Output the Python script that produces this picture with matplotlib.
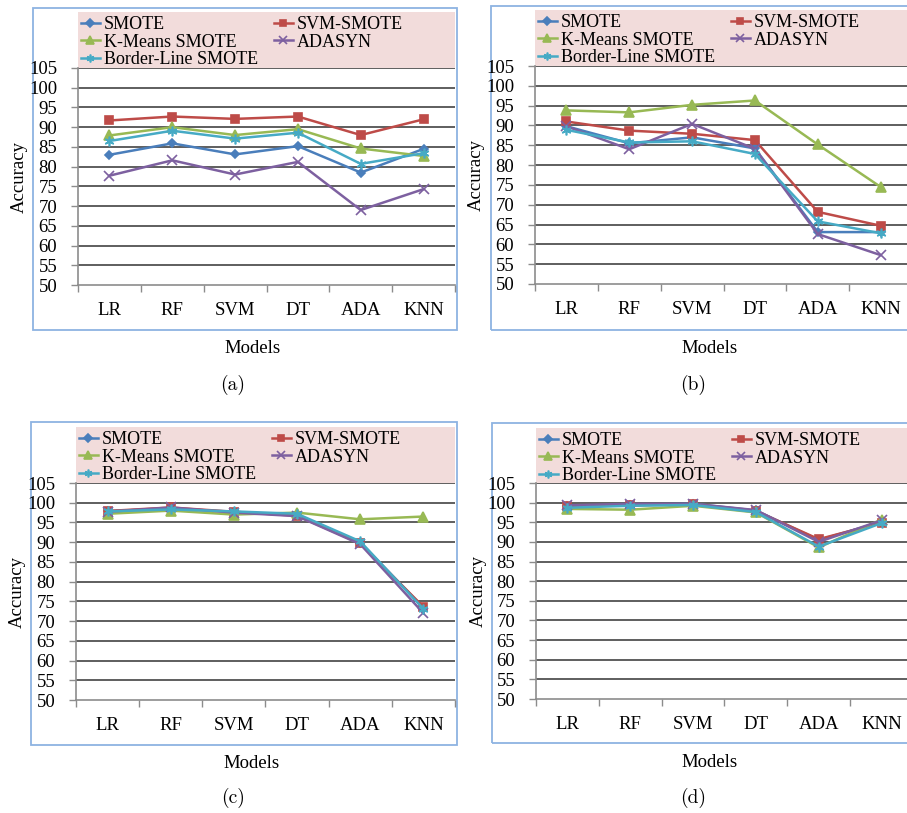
import matplotlib
matplotlib.use('Agg')
import matplotlib.pyplot as plt
from matplotlib.patches import Rectangle

models = ['LR', 'RF', 'SVM', 'DT', 'ADA', 'KNN']
methods = ['SMOTE', 'SVM-SMOTE', 'K-Means SMOTE', 'ADASYN', 'Border-Line SMOTE']
yticks = [50, 55, 60, 65, 70, 75, 80, 85, 90, 95, 100, 105]

# accuracy per method (rows in the order of `methods`)
acc_a = [
    [83.0, 85.9, 83.1, 85.2, 78.5, 84.5],
    [91.7, 92.7, 92.1, 92.7, 88.0, 92.0],
    [87.9, 90.0, 88.0, 89.5, 84.6, 82.7],
    [77.7, 81.6, 78.0, 81.2, 69.0, 74.3],
    [86.5, 89.1, 87.1, 88.6, 80.7, 83.4],
]
acc_b = [
    [89.8, 85.5, 87.0, 84.2, 63.1, 63.1],
    [91.0, 88.7, 87.9, 86.3, 68.2, 64.7],
    [93.8, 93.3, 95.2, 96.3, 85.2, 74.5],
    [89.8, 84.0, 90.4, 84.1, 62.6, 57.3],
    [88.9, 85.7, 86.0, 82.8, 65.8, 62.8],
]
acc_c = [
    [97.9, 98.5, 97.7, 96.8, 89.9, 73.4],
    [97.9, 98.8, 97.7, 96.7, 89.7, 73.6],
    [97.2, 98.0, 97.0, 97.5, 95.8, 96.5],
    [97.7, 98.8, 97.5, 96.6, 89.5, 72.0],
    [97.8, 98.3, 97.8, 97.2, 90.2, 73.1],
]
acc_d = [
    [99.1, 99.5, 99.7, 98.0, 90.5, 95.1],
    [99.1, 99.3, 99.6, 97.9, 90.7, 94.9],
    [98.4, 98.2, 99.2, 97.5, 88.6, 95.7],
    [99.3, 99.7, 99.7, 98.1, 90.0, 95.5],
    [98.7, 99.2, 99.4, 97.6, 88.8, 94.8],
]

colors = ['#4A7EBB', '#BE4B48', '#98B954', '#7D60A0', '#46AAC5']
markers = ['D', 's', '^', 'x', (6, 2, 0)]
msizes = [4.5, 6, 6.5, 7, 7]

W, H = 907, 813
serif = ['Liberation Serif', 'DejaVu Serif']
plt.rcParams['font.family'] = serif

fig = plt.figure(figsize=(W / 100, H / 100), dpi=100)


def px(l, t, r, b):
    return [l / W, 1 - b / H, (r - l) / W, (b - t) / H]


# panel layout in pixels: axes left/top/bottom, border box, label positions
panels = [
    dict(data=acc_a, ax=(78, 68, 455, 285), box=(33, 8, 457, 330), leg_top=12,
         ylab=19, models=(253, 348), cap=(233, 385), tag='(a)'),
    dict(data=acc_b, ax=(535, 66, 912, 284), box=(491, 6, 930, 330), leg_top=10,
         ylab=476, models=(710, 348), cap=(693, 385), tag='(b)'),
    dict(data=acc_c, ax=(76, 483, 455, 700), box=(31, 422, 457, 745), leg_top=427,
         ylab=17, models=(252, 763), cap=(233, 798), tag='(c)'),
    dict(data=acc_d, ax=(536, 483, 913, 699), box=(492, 423, 930, 743), leg_top=428,
         ylab=478, models=(710, 762), cap=(693, 798), tag='(d)'),
]

for p in panels:
    l, t, r, b = p['ax']
    bl, bt, br, bb = p['box']
    # light blue chart border
    fig.patches.append(Rectangle((bl / W, 1 - bb / H), (br - bl) / W, (bb - bt) / H,
                                 transform=fig.transFigure, fill=False,
                                 edgecolor='#8DB3E2', linewidth=1.3, zorder=-2))
    # pink legend area
    fig.patches.append(Rectangle((l / W, 1 - t / H), (r - l) / W, (t - p['leg_top']) / H,
                                 transform=fig.transFigure, facecolor='#F2DCDB',
                                 edgecolor='none', zorder=-2))

    ax = fig.add_axes(px(l, t, r, b))
    ax.set_facecolor('none')
    x = list(range(len(models)))
    handles = []
    for i, name in enumerate(methods):
        h, = ax.plot(x, p['data'][i], color=colors[i], marker=markers[i],
                     markersize=msizes[i], linewidth=1.8, label=name,
                     markeredgewidth=1.2)
        handles.append(h)

    ax.set_xlim(-0.5, 5.5)
    ax.set_ylim(50, 105)
    ax.set_yticks(yticks)
    ax.set_xticks(x)
    ax.set_xticklabels(models)
    ax.set_xticks([k + 0.5 for k in range(-1, 6)], minor=True)
    ax.tick_params(axis='x', which='major', length=0, pad=12, labelsize=13.5)
    ax.tick_params(axis='x', which='minor', length=5, color='#8C8C8C', width=1)
    ax.tick_params(axis='y', length=5, color='#8C8C8C', width=1, pad=10, labelsize=13.5)
    for yv in yticks[1:]:
        ax.axhline(yv, color='#333333', linewidth=1.1, zorder=0.5)
    for s in ['top', 'right']:
        ax.spines[s].set_visible(False)
    for s in ['left', 'bottom']:
        ax.spines[s].set_color('#8C8C8C')
        ax.spines[s].set_linewidth(1.2)

    order = [0, 2, 4, 1, 3]
    ax.legend([handles[k] for k in order], [methods[k] for k in order], ncol=2,
              loc='upper left', bbox_to_anchor=((l + 3) / W, 1 - (p['leg_top'] + 4) / H),
              bbox_transform=fig.transFigure, frameon=False, fontsize=13,
              handlelength=1.05, handletextpad=0.2, columnspacing=0.9,
              labelspacing=0.03, borderpad=0, borderaxespad=0, markerscale=0.8)

    fig.text(p['ylab'] / W, 1 - ((t + b) / 2) / H, 'Accuracy', rotation=90,
             ha='center', va='center', fontsize=13.5)
    fig.text(p['models'][0] / W, 1 - p['models'][1] / H, 'Models',
             ha='center', va='center', fontsize=13.5)
    fig.text(p['cap'][0] / W, 1 - p['cap'][1] / H, p['tag'],
             ha='center', va='center', fontsize=14, family=['cmr10', 'DejaVu Serif'])

fig.savefig('out.png', dpi=100)
